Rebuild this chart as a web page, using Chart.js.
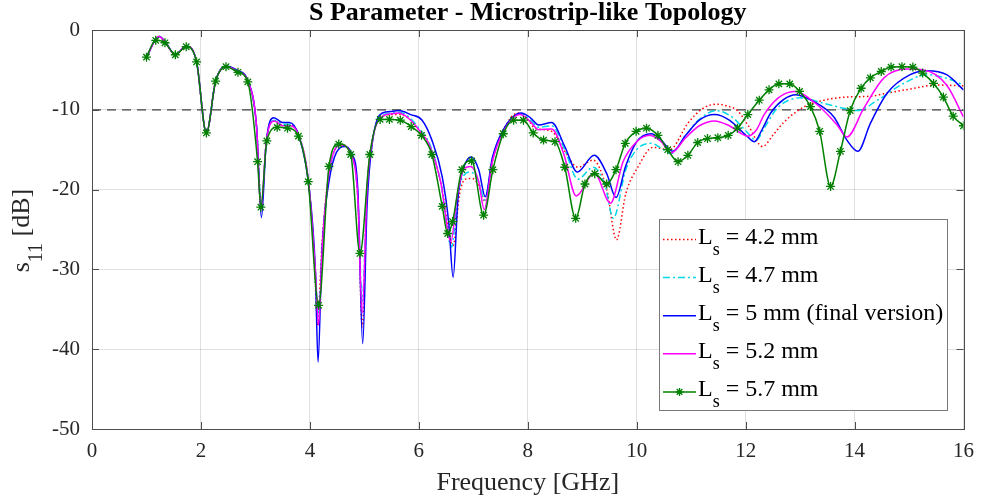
<!DOCTYPE html>
<html>
<head>
<meta charset="utf-8">
<script src="https://cdn.jsdelivr.net/npm/chart.js@4.4.0/dist/chart.umd.min.js"></script>
<style>
    html, body { margin: 0; padding: 0; background: #ffffff; }
    #wrap { width: 984px; height: 502px; }
</style>
</head>
<body>
<div id="wrap"><canvas id="sParam" width="984" height="502"></canvas></div>
<script>

    /**
     * Data: [frequency GHz, s11 dB]
     */
    var ls42 = [[1.0,-3.4],[1.23,-0.8],[1.34,-1.5],[1.53,-3.1],[1.73,-2.0],[1.92,-4.0],[2.10,-12.9],[2.27,-6.4],
        [2.46,-4.6],[2.68,-5.2],[2.86,-6.4],[3.02,-12],[3.11,-22],[3.2,-14],[3.35,-11.4],[3.5,-11.9],[3.62,-11.9],
        [3.8,-13.3],[3.98,-19.3],[4.09,-30],[4.14,-37],[4.22,-27],[4.35,-18],[4.57,-14.4],[4.75,-15.4],[4.88,-21],
        [4.96,-37.2],[5.05,-20],[5.15,-13.6],[5.3,-11],[5.5,-10.6],[5.65,-10.6],[5.82,-11.1],[6.0,-12.5],[6.2,-14.5],
        [6.4,-19],[6.63,-27],[6.75,-20.5],[6.85,-18.7],[6.98,-18.6],[7.1,-19.5],[7.22,-21.5],[7.35,-16.5],[7.55,-12.6],
        [7.82,-10.4],[8.0,-11.2],[8.13,-12.3],[8.44,-12.7],[8.68,-15.2],[8.92,-17.2],[9.2,-16.3],[9.45,-20],
        [9.63,-26.3],[9.8,-20.5],[10.02,-17.2],[10.3,-14.7],[10.6,-15.0],[10.95,-11.6],[11.2,-9.9],[11.46,-9.3],
        [11.7,-9.6],[11.85,-10.1],[12.05,-12.0],[12.31,-14.6],[12.5,-13.2],[12.71,-11.5],[13.08,-9.6],[13.44,-8.8],
        [13.86,-8.4],[14.29,-8.3],[14.6,-7.9],[15.02,-7.4],[15.5,-6.9],[16.0,-7.0]];

    var ls47 = [[1.0,-3.4],[1.23,-0.8],[1.34,-1.5],[1.53,-3.1],[1.73,-2.0],[1.92,-4.0],[2.10,-12.9],[2.27,-6.4],
        [2.46,-4.6],[2.68,-5.2],[2.86,-6.4],[3.02,-12],[3.11,-22],[3.2,-14],[3.35,-11.3],[3.5,-11.8],[3.62,-11.8],
        [3.8,-13.3],[3.98,-19.3],[4.1,-30],[4.16,-36],[4.23,-27],[4.35,-18],[4.57,-14.4],[4.75,-15.4],[4.88,-21],
        [4.96,-34],[5.05,-20],[5.15,-13.7],[5.3,-10.9],[5.5,-10.4],[5.64,-10.3],[5.82,-10.9],[6.0,-12.3],[6.2,-14.3],
        [6.4,-19],[6.6,-27.2],[6.72,-20.5],[6.83,-18.2],[6.95,-17.8],[7.1,-19],[7.21,-21.3],[7.35,-16.3],[7.55,-12.6],
        [7.87,-10.5],[8.05,-11.3],[8.2,-12.2],[8.44,-12.0],[8.68,-15],[8.92,-18.7],[9.2,-17.2],[9.42,-19.5],
        [9.57,-23.6],[9.8,-17.5],[10.0,-15],[10.27,-14.2],[10.45,-14.8],[10.63,-15.5],[10.9,-13.2],[11.15,-11.2],
        [11.46,-10.1],[11.75,-10.9],[12.0,-12.6],[12.19,-13.8],[12.35,-12.2],[12.58,-9.8],[13.01,-8.5],[13.44,-9.2],
        [13.80,-9.8],[14.05,-10.1],[14.42,-8.8],[14.9,-6.7],[15.33,-5.6],[15.76,-6.2],[16.0,-6.9]];

    var ls50 = [[1.0,-3.4],[1.23,-0.8],[1.34,-1.4],[1.53,-3.1],[1.73,-2.0],[1.92,-4.0],[2.10,-12.9],[2.27,-6.4],
        [2.46,-4.5],[2.68,-5.1],[2.86,-6.3],[3.02,-12],[3.11,-23.5],[3.2,-14],[3.34,-11.0],[3.5,-11.6],[3.62,-11.6],
        [3.8,-13.3],[3.98,-19.5],[4.1,-30],[4.15,-41.6],[4.22,-28],[4.35,-19],[4.63,-14.6],[4.77,-15.5],[4.88,-20],
        [4.97,-39.3],[5.05,-22],[5.15,-14],[5.33,-10.4],[5.5,-10.2],[5.63,-10.1],[5.85,-10.6],[6.06,-11.3],
        [6.24,-13.8],[6.43,-18.4],[6.55,-24.2],[6.63,-31.0],[6.72,-21],[6.8,-17.8],[6.96,-15.9],[7.1,-17.5],
        [7.22,-20.9],[7.35,-16],[7.55,-12.5],[7.88,-10.4],[8.05,-11],[8.2,-11.9],[8.44,-11.6],[8.68,-14.6],
        [8.91,-17.8],[9.22,-15.7],[9.45,-18],[9.62,-21.0],[9.8,-17],[10.0,-14],[10.27,-13.0],[10.45,-13.8],
        [10.66,-15.2],[10.9,-13.2],[11.15,-11.3],[11.43,-10.6],[11.7,-11.3],[12.04,-13.4],[12.16,-14.0],[12.3,-12.5],
        [12.46,-10.4],[12.7,-8.7],[12.92,-8.1],[13.26,-9.0],[13.62,-10.9],[13.86,-13.8],[14.06,-15.2],[14.29,-11.7],
        [14.6,-7.9],[15.02,-5.6],[15.33,-5.1],[15.69,-5.6],[16.0,-7.5]];

    var ls52 = [[1.0,-3.4],[1.23,-0.8],[1.34,-1.5],[1.53,-3.1],[1.73,-2.0],[1.92,-4.0],[2.10,-12.9],[2.27,-6.4],
        [2.46,-4.6],[2.68,-5.2],[2.86,-6.4],[3.02,-12],[3.10,-22.5],[3.2,-14],[3.35,-11.4],[3.5,-12],[3.62,-12],
        [3.8,-13.3],[3.98,-19.3],[4.1,-30],[4.16,-37],[4.23,-27],[4.35,-18],[4.57,-14.4],[4.75,-15.5],[4.88,-21],
        [4.96,-35.5],[5.05,-20],[5.15,-13.8],[5.3,-11],[5.5,-10.5],[5.63,-10.4],[5.8,-11],[6.0,-12.5],[6.2,-14.5],
        [6.4,-19],[6.59,-26.5],[6.7,-21],[6.82,-17.5],[6.95,-17.1],[7.1,-19],[7.20,-22.5],[7.35,-16.5],[7.55,-12.8],
        [7.86,-10.6],[8.05,-11.5],[8.2,-12.5],[8.44,-12.4],[8.66,-15.5],[8.89,-20.8],[9.22,-17.9],[9.52,-21.7],
        [9.75,-16.5],[10.0,-14],[10.24,-13.2],[10.45,-14],[10.63,-15.4],[10.9,-13.5],[11.15,-12],[11.43,-11.4],
        [11.7,-12],[12.04,-13.3],[12.2,-12.5],[12.34,-10.6],[12.6,-8.5],[12.89,-7.7],[13.32,-9.4],[13.68,-11.9],
        [13.86,-13.4],[14.17,-9.8],[14.54,-6.0],[14.96,-4.9],[15.27,-5.0],[15.69,-6.9],[16.0,-10.9]];

    var ls57 = [[1.0,-3.4],[1.17,-1.3],[1.34,-1.6],[1.53,-3.1],[1.73,-2.1],[1.92,-4.0],[2.10,-12.9],[2.27,-6.4],
        [2.46,-4.6],[2.68,-5.3],[2.86,-6.5],[3.04,-16.5],[3.10,-22.2],[3.21,-13.9],[3.40,-12.2],[3.59,-12.3],
        [3.79,-13.3],[3.97,-19.0],[4.16,-34.5],[4.35,-17.1],[4.53,-14.3],[4.75,-15.6],[4.92,-28.0],[5.10,-15.6],
        [5.29,-11.2],[5.46,-11.2],[5.66,-11.3],[5.86,-12.1],[6.05,-13.2],[6.24,-15.6],[6.43,-22.1],[6.53,-25.5],
        [6.62,-24.0],[6.79,-17.5],[6.97,-16.4],[7.19,-23.2],[7.36,-17.5],[7.55,-13.0],[7.74,-11.3],[7.92,-11.3],
        [8.10,-12.9],[8.29,-13.8],[8.50,-14.0],[8.68,-17.2],[8.88,-23.6],[9.05,-19.3],[9.23,-18.0],[9.45,-19.3],
        [9.62,-17.5],[9.79,-14.2],[9.99,-12.7],[10.18,-12.3],[10.39,-13.2],[10.57,-15.0],[10.76,-16.5],[10.94,-15.7],
        [11.12,-14.1],[11.30,-13.6],[11.49,-13.5],[11.68,-13.2],[11.85,-12.3],[12.04,-10.6],[12.25,-8.8],[12.43,-7.5],
        [12.61,-6.75],[12.81,-6.75],[12.99,-7.7],[13.19,-9.6],[13.36,-12.7],[13.56,-19.6],[13.74,-15.2],[13.92,-10.1],
        [14.12,-7.3],[14.29,-6.0],[14.49,-5.2],[14.67,-4.65],[14.87,-4.6],[15.07,-4.65],[15.25,-5.4],[15.45,-6.7],
        [15.63,-8.4],[15.81,-10.8],[16.0,-12.0]];

    var xTicks = [0, 2, 4, 6, 8, 10, 12, 14, 16];
    var yTicks = [-50, -40, -30, -20, -10, 0];
    var threshold = -10;
    var legendLabels = ["4.2 mm", "4.7 mm", "5 mm (final version)", "5.2 mm", "5.7 mm"];
    var chartTitle = 'S Parameter - Microstrip-like Topology';

    var serif = "'Liberation Serif', 'Times New Roman', serif";
    var axisColor = '#4d4d4d';
    var textColor = '#262626';

    function pts(arr) {
        return arr.map(function (p) { return {x: p[0], y: p[1]}; });
    }

    // line styles, same order as legendLabels
    var styles = [
        {color: '#ff0000', dash: [1.5, 2.5]},
        {color: '#00d8e8', dash: [7, 3, 2, 3]},
        {color: '#0000ff', dash: []},
        {color: '#ff00ff', dash: []},
        {color: '#008000', dash: [], star: true}
    ];

    var lineData = {
        datasets: [
            {label: "Ls = 4.2 mm", data: pts(ls42), order: 5},
            {label: "Ls = 4.7 mm", data: pts(ls47), order: 4},
            {label: "Ls = 5 mm (final version)", data: pts(ls50), order: 3},
            {label: "Ls = 5.2 mm", data: pts(ls52), order: 2},
            {label: "Ls = 5.7 mm", data: pts(ls57), order: 1}
        ].map(function (d, i) {
            var s = styles[i];
            d.borderColor = s.color;
            d.backgroundColor = s.color;
            d.borderDash = s.dash;
            d.borderWidth = 1.5;
            d.cubicInterpolationMode = 'monotone';
            d.pointRadius = s.star ? 4.5 : 0;
            d.pointStyle = 'star';
            d.pointBorderColor = s.color;
            d.pointBorderWidth = 1.3;
            return d;
        })
    };

    // -10 dB reference line
    lineData.datasets.push({
        label: "limit",
        data: [{x: 0, y: threshold}, {x: 16, y: threshold}],
        borderColor: '#404040',
        borderDash: [9, 6],
        borderWidth: 1.2,
        pointRadius: 0,
        order: 10
    });

    /**
     * Box, inward ticks, title, y title with subscript and the legend
     */
    var framePlugin = {
        id: 'frame',
        afterDraw: function (chart) {
            var c = chart.ctx, a = chart.chartArea;
            var xs = chart.scales.x, ys = chart.scales.y;
            c.save();
            c.strokeStyle = axisColor;
            c.lineWidth = 1;
            c.strokeRect(Math.round(a.left) + 0.5, Math.round(a.top) + 0.5,
                Math.round(a.right - a.left), Math.round(a.bottom - a.top));
            c.beginPath();
            xTicks.forEach(function (t) {
                var px = Math.round(xs.getPixelForValue(t)) + 0.5;
                c.moveTo(px, a.bottom); c.lineTo(px, a.bottom - 7);
                c.moveTo(px, a.top); c.lineTo(px, a.top + 7);
            });
            yTicks.forEach(function (t) {
                var py = Math.round(ys.getPixelForValue(t)) + 0.5;
                c.moveTo(a.left, py); c.lineTo(a.left + 7, py);
                c.moveTo(a.right, py); c.lineTo(a.right - 7, py);
            });
            c.stroke();

            // title, centred over the axes
            c.fillStyle = '#000000';
            c.font = 'bold 26px ' + serif;
            c.textAlign = 'center';
            c.textBaseline = 'alphabetic';
            c.fillText(chartTitle, (a.left + a.right) / 2, 20);

            // y axis title: s_11 [dB]
            c.fillStyle = textColor;
            c.textAlign = 'left';
            var big = '26px ' + serif, small = '20px ' + serif;
            c.font = big; var w1 = c.measureText('s').width; var w3 = c.measureText(' [dB]').width;
            c.font = small; var w2 = c.measureText('11').width;
            var total = w1 + w2 + w3;
            c.translate(29, (a.top + a.bottom) / 2 + 1);
            c.rotate(-Math.PI / 2);
            var x0 = -total / 2;
            c.font = big; c.fillText('s', x0, 0);
            c.font = small; c.fillText('11', x0 + w1, 13);
            c.font = big; c.fillText(' [dB]', x0 + w1 + w2, 0);
            c.setTransform(1, 0, 0, 1, 0, 0);

            // legend
            var bx = 659.5, by = 219.5, bw = 288, bh = 191;
            c.fillStyle = '#ffffff';
            c.fillRect(bx, by, bw, bh);
            c.strokeStyle = '#7a7a7a';
            c.strokeRect(bx, by, bw, bh);
            var lbig = '24px ' + serif;
            legendLabels.forEach(function (lab, i) {
                var s = styles[i];
                var ly = 239.5 + 38.1 * i;
                var base = 243.5 + 38.2 * i;
                c.strokeStyle = s.color;
                c.lineWidth = 1.5;
                c.setLineDash(s.dash);
                c.beginPath();
                c.moveTo(663, ly); c.lineTo(696, ly);
                c.stroke();
                c.setLineDash([]);
                if (s.star) {
                    c.lineWidth = 1.3;
                    c.beginPath();
                    for (var k = 0; k < 4; k++) {
                        var ang = k * Math.PI / 4, r = 4;
                        c.moveTo(679.5 - r * Math.cos(ang), ly - r * Math.sin(ang));
                        c.lineTo(679.5 + r * Math.cos(ang), ly + r * Math.sin(ang));
                    }
                    c.stroke();
                }
                c.fillStyle = '#000000';
                c.font = lbig;
                c.fillText('L', 698, base);
                var wl = c.measureText('L').width;
                c.font = '18px ' + serif;
                c.fillText('s', 698 + wl, base + 11);
                var ws = c.measureText('s').width;
                c.font = lbig;
                c.fillText(' = ' + lab, 698 + wl + ws, base);
            });
            c.restore();
        }
    };

    var lineOptions = {
        responsive: false,
        animation: false,
        layout: {padding: {left: 0, right: 17, top: 30, bottom: 0}},
        plugins: {
            legend: {display: false},
            tooltip: {enabled: false},
            title: {display: false}
        },
        scales: {
            x: {
                type: 'linear',
                min: 0,
                max: 16,
                afterBuildTicks: function (scale) {
                    scale.ticks = xTicks.map(function (v) { return {value: v}; });
                },
                afterFit: function (scale) { scale.height = 73; },
                ticks: {color: textColor, font: {family: serif, size: 21}, padding: 10, maxRotation: 0},
                grid: {color: 'rgba(0,0,0,0.12)', drawTicks: false},
                border: {color: axisColor},
                title: {
                    display: true,
                    text: 'Frequency [GHz]',
                    color: textColor,
                    font: {family: serif, size: 26},
                    padding: {top: 0, bottom: 3}
                }
            },
            y: {
                type: 'linear',
                min: -50,
                max: 0,
                afterBuildTicks: function (scale) {
                    scale.ticks = yTicks.map(function (v) { return {value: v}; });
                },
                afterFit: function (scale) { scale.width = 92; },
                ticks: {color: textColor, font: {family: serif, size: 21}, padding: 12},
                grid: {color: 'rgba(0,0,0,0.12)', drawTicks: false},
                border: {color: axisColor}
            }
        }
    };

    var ctx = document.getElementById("sParam").getContext("2d");
    new Chart(ctx, {type: 'line', data: lineData, options: lineOptions, plugins: [framePlugin]});

</script>
</body>
</html>
